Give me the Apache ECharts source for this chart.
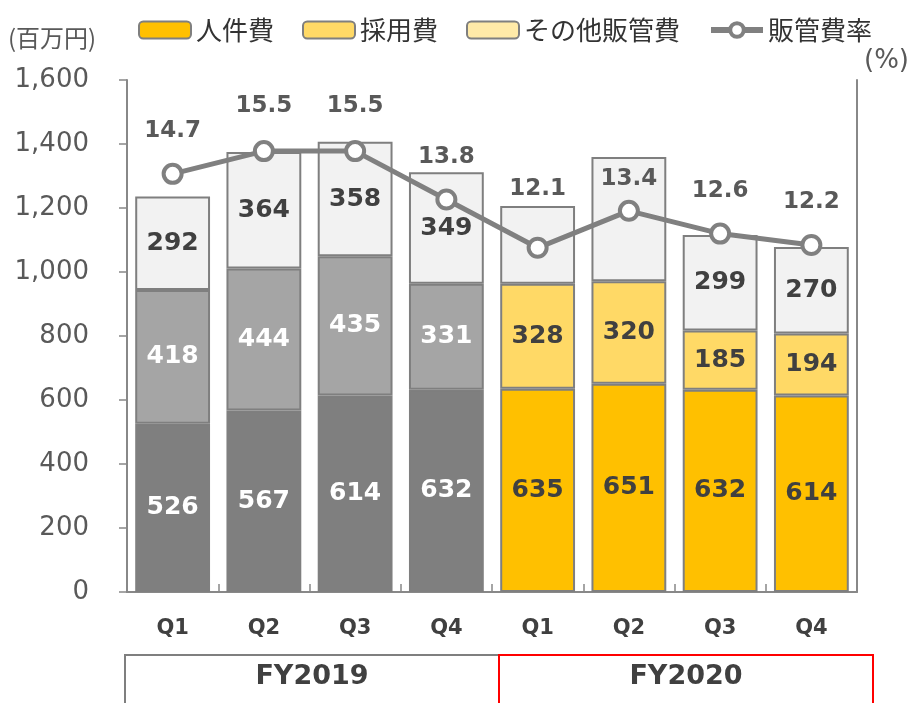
<!DOCTYPE html>
<html><head><meta charset="utf-8">
<script src="https://cdn.jsdelivr.net/npm/echarts@6/dist/echarts.min.js"></script>
<style>html,body{margin:0;padding:0;background:#fff}#c{width:917px;height:703px}</style>
</head><body><div id="c"></div>
<script>
const categories = ['Q1','Q2','Q3','Q4','Q1','Q2','Q3','Q4'];
const fiscalYears = ['FY2019','FY2020'];
const personnel = [526,567,614,632,635,651,632,614];
const recruiting = [418,444,435,331,328,320,185,194];
const otherSga = [292,364,358,349,243,388,299,270];
const otherLabelShown = [true,true,true,true,false,false,true,true];
const sgaRatio = [14.7,15.5,15.5,13.8,12.1,13.4,12.6,12.2];
const ratioLabelShift = [0,-3,-3,0,-16,11,0,0];
const yTicks = [0,200,400,600,800,1000,1200,1400,1600];
const seriesNames = ['人件費','採用費','その他販管費','販管費率'];

const FONT = "'DejaVu Sans','Noto Sans CJK JP',sans-serif";
const JFONT = "'Noto Sans CJK JP','DejaVu Sans',sans-serif";
const BORDER = '#7f7f7f';
const colors2019 = ['#7f7f7f','#a5a5a5','#f2f2f2'];
const colors2020 = ['#ffc000','#ffd966','#f2f2f2'];
const legendColors = ['#ffc000','#ffd966','#ffeaa8'];
const darkText = '#404040';

function isFY2019(i){ return i < 4; }

function barSeries(k, values, showArr){
  return {
    name: seriesNames[k], type: 'bar', stack: 'sga', yAxisIndex: 0,
    barCategoryGap: '18%',
    itemStyle: {color: legendColors[k], borderColor: BORDER, borderWidth: 2},
    data: values.map((v,i)=>({
      value: v,
      itemStyle: {color: isFY2019(i) ? colors2019[k] : colors2020[k]},
      label: {
        show: showArr ? showArr[i] : true,
        color: (isFY2019(i) && k < 2) ? '#ffffff' : darkText
      }
    })),
    label: {show: true, position: 'inside', fontFamily: FONT, fontWeight: 'bold', fontSize: 25},
    emphasis: {disabled: true}
  };
}

const chart = echarts.init(document.getElementById('c'), null, {renderer: 'canvas'});
chart.setOption({
  animation: false,
  textStyle: {fontFamily: FONT},
  grid: {left: 127, right: 60, top: 80, bottom: 111, containLabel: false},
  legend: {
    top: 12, left: 133, itemWidth: 52, itemHeight: 17, itemGap: 28,
    textStyle: {fontSize: 26, color: '#333', fontFamily: JFONT},
    data: [
      seriesNames[0], seriesNames[1], seriesNames[2],
      {name: seriesNames[3], itemStyle: {color: '#ffffff', borderColor: '#808080', borderWidth: 4},
       lineStyle: {color: '#808080', width: 6}}
    ]
  },
  xAxis: [{
    type: 'category', data: categories,
    axisLine: {lineStyle: {color: '#888', width: 2}},
    axisTick: {show: true, inside: true, length: 8, lineStyle: {color: '#888', width: 1.5}},
    axisLabel: {margin: 26, fontSize: 21, fontWeight: 'bold', color: darkText, fontFamily: FONT}
  }],
  yAxis: [{
    type: 'value', min: 0, max: 1600, interval: 200,
    axisLine: {show: true, lineStyle: {color: '#888', width: 2}},
    axisTick: {show: true, length: 8, lineStyle: {color: '#888', width: 1.5}},
    splitLine: {show: false},
    axisLabel: {margin: 38, fontSize: 26, color: '#595959', fontFamily: FONT,
      formatter: v => yTicks.includes(v) ? v.toLocaleString('en-US') : ''}
  },{
    type: 'value', min: 0, max: 18, position: 'right',
    axisLine: {show: true, lineStyle: {color: '#888', width: 2}},
    axisTick: {show: false}, axisLabel: {show: false}, splitLine: {show: false}
  }],
  series: [
    barSeries(0, personnel),
    barSeries(1, recruiting),
    barSeries(2, otherSga, otherLabelShown),
    {
      name: seriesNames[3], type: 'line', yAxisIndex: 1,
      symbol: 'circle', symbolSize: 18,
      lineStyle: {color: '#808080', width: 5},
      itemStyle: {color: '#ffffff', borderColor: '#808080', borderWidth: 4},
      data: sgaRatio.map((v,i)=>({value: v, label: {offset: [0, ratioLabelShift[i]]}})),
      label: {show: true, position: 'top', distance: 20, fontSize: 23, fontWeight: 'bold',
        color: '#595959', fontFamily: FONT, formatter: p => p.value.toFixed(1)},
      emphasis: {disabled: true},
      z: 5
    }
  ],
  graphic: [
    {type: 'text', left: 8, top: 26, style: {text: '(百万円)', fontSize: 24, fill: '#595959', fontFamily: JFONT}},
    {type: 'text', left: 864, top: 48, style: {text: '(%)', fontSize: 26, fill: '#595959', fontFamily: FONT}},
    {type: 'polyline', shape: {points: [[125,704],[125,655],[499,655]]}, style: {stroke: '#7f7f7f', lineWidth: 2, fill: null}},
    {type: 'polyline', shape: {points: [[499,704],[499,655],[873,655],[873,704]]}, style: {stroke: '#ff0000', lineWidth: 2, fill: null}},
    {type: 'text', x: 312, y: 677, style: {text: fiscalYears[0], fontSize: 27, fontWeight: 'bold', fill: darkText, fontFamily: FONT, align: 'center', verticalAlign: 'middle'}},
    {type: 'text', x: 686, y: 677, style: {text: fiscalYears[1], fontSize: 27, fontWeight: 'bold', fill: darkText, fontFamily: FONT, align: 'center', verticalAlign: 'middle'}}
  ]
});
</script></body></html>
